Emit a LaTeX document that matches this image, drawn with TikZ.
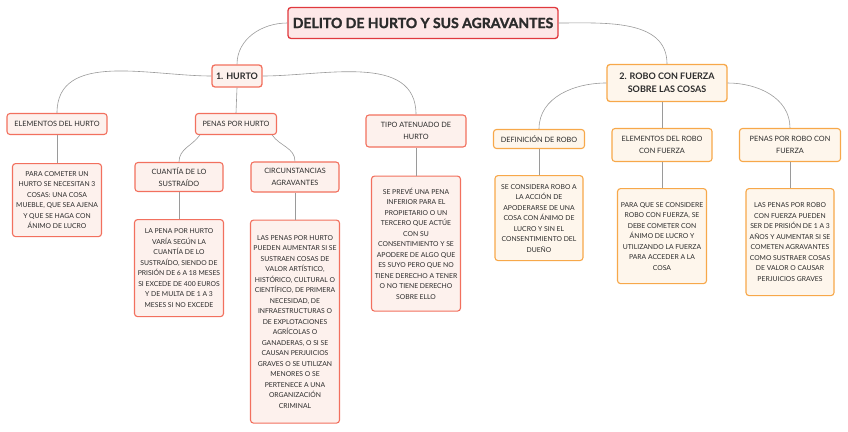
\documentclass[tikz,border=0pt]{standalone}
\usepackage{fontspec}
\setmainfont{Lato}
\newfontfamily\rootfont{Lato}[BoldFeatures={FakeBold=1.6}]
\usepackage{tikz}
\usetikzlibrary{positioning, calc}

\definecolor{rootline}{HTML}{E0393E}
\definecolor{rootfill}{HTML}{FDE7E7}
\definecolor{redline}{HTML}{F2705E}
\definecolor{redfill}{HTML}{FDF1ED}
\definecolor{orangeline}{HTML}{F7A84A}
\definecolor{orangefill}{HTML}{FEF6EC}
\definecolor{linkgray}{HTML}{9A9A9A}
\definecolor{textdark}{HTML}{2B2B2B}

\begin{document}
\begin{tikzpicture}[
    x=1pt, y=-1pt,
    every node/.style={text=textdark},
    box/.style={rectangle, rounded corners=3pt, align=center, inner sep=2pt, line width=1.1pt},
    rootbox/.style={box, draw=rootline, fill=rootfill, line width=1.3pt,
                    font=\rootfont\bfseries\fontsize{14}{16}\selectfont, minimum width=270pt, minimum height=31pt},
    mainred/.style={box, draw=redline, fill=redfill, line width=1.3pt,
                    font=\bfseries\fontsize{9}{13}\selectfont},
    mainorange/.style={box, draw=orangeline, fill=orangefill, line width=1.3pt,
                    font=\bfseries\fontsize{9}{13}\selectfont},
    catred/.style={box, draw=redline, fill=redfill, font=\fontsize{7.3}{12}\selectfont},
    catorange/.style={box, draw=orangeline, fill=orangefill, font=\fontsize{7.3}{12}\selectfont},
    leafred/.style={box, draw=redline, fill=redfill, font=\fontsize{6.8}{10.5}\selectfont,
                    minimum width=89pt},
    leaforange/.style={box, draw=orangeline, fill=orangefill, font=\fontsize{6.8}{10.5}\selectfont,
                    minimum width=89pt},
    link/.style={draw=linkgray, line width=0.6pt},
]

\useasboundingbox (0,0) rectangle (848,431);

\node[rootbox] (root) at (423,23) {DELITO DE HURTO Y SUS AGRAVANTES};

\node[mainred, minimum width=50pt, minimum height=22pt] (hurto) at (237,76) {1. HURTO};
\node[mainorange, minimum width=120pt, minimum height=37pt] (robo) at (667,83) {2. ROBO CON FUERZA\\SOBRE LAS COSAS};

\node[catred, minimum width=100pt, minimum height=21pt] (elemh) at (57,124) {ELEMENTOS DEL HURTO};
\node[catred, minimum width=81pt, minimum height=21pt] (penash) at (236,124) {PENAS POR HURTO};
\node[catred, minimum width=100pt, minimum height=32pt] (tipo) at (416,131) {TIPO ATENUADO DE\\HURTO};
\node[catred, minimum width=88pt, minimum height=29pt] (cuantia) at (179,177) {CUANTÍA DE LO\\SUSTRAÍDO};
\node[catred, minimum width=88pt, minimum height=30pt] (circ) at (295,177) {CIRCUNSTANCIAS\\AGRAVANTES};

\node[catorange, minimum width=91pt, minimum height=19pt] (defr) at (539,139) {DEFINICIÓN DE ROBO};
\node[catorange, minimum width=100pt, minimum height=33pt] (elemr) at (662,145) {ELEMENTOS DEL ROBO\\CON FUERZA};
\node[catorange, minimum width=101pt, minimum height=33pt] (penasr) at (790,145) {PENAS POR ROBO CON\\FUERZA};

\node[leafred, minimum height=73pt, below=28pt of elemh] (paracom) {PARA COMETER UN\\HURTO SE NECESITAN 3\\COSAS: UNA COSA\\MUEBLE, QUE SEA AJENA\\Y QUE SE HAGA CON\\ÁNIMO DE LUCRO};
\node[leafred, minimum height=97pt, below=27pt of cuantia] (penacuant) {LA PENA POR HURTO\\VARÍA SEGÚN LA\\CUANTÍA DE LO\\SUSTRAÍDO, SIENDO DE\\PRISIÓN DE 6 A 18 MESES\\SI EXCEDE DE 400 EUROS\\Y DE MULTA DE 1 A 3\\MESES SI NO EXCEDE};
\node[leafred, minimum height=203pt, below=27pt of circ] (penascirc) {LAS PENAS POR HURTO\\PUEDEN AUMENTAR SI SE\\SUSTRAEN COSAS DE\\VALOR ARTÍSTICO,\\HISTÓRICO, CULTURAL O\\CIENTÍFICO, DE PRIMERA\\NECESIDAD, DE\\INFRAESTRUCTURAS O\\DE EXPLOTACIONES\\AGRÍCOLAS O\\GANADERAS, O SI SE\\CAUSAN PERJUICIOS\\GRAVES O SE UTILIZAN\\MENORES O SE\\PERTENECE A UNA\\ORGANIZACIÓN\\CRIMINAL};
\node[leafred, minimum height=135pt, below=28pt of tipo] (seprev) {SE PREVÉ UNA PENA\\INFERIOR PARA EL\\PROPIETARIO O UN\\TERCERO QUE ACTÚE\\CON SU\\CONSENTIMIENTO Y SE\\APODERE DE ALGO QUE\\ES SUYO PERO QUE NO\\TIENE DERECHO A TENER\\O NO TIENE DERECHO\\SOBRE ELLO};

\node[leaforange, minimum width=88pt, minimum height=85pt, below=26pt of defr] (secons) {SE CONSIDERA ROBO A\\LA ACCIÓN DE\\APODERARSE DE UNA\\COSA CON ÁNIMO DE\\LUCRO Y SIN EL\\CONSENTIMIENTO DEL\\DUEÑO};
\node[leaforange, minimum height=95pt, below=26pt of elemr] (paraque) {PARA QUE SE CONSIDERE\\ROBO CON FUERZA, SE\\DEBE COMETER CON\\ÁNIMO DE LUCRO Y\\UTILIZANDO LA FUERZA\\PARA ACCEDER A LA\\COSA};
\node[leaforange, minimum width=88pt, minimum height=107pt, below=26pt of penasr] (penasrob) {LAS PENAS POR ROBO\\CON FUERZA PUEDEN\\SER DE PRISIÓN DE 1 A 3\\AÑOS Y AUMENTAR SI SE\\COMETEN AGRAVANTES\\COMO SUSTRAER COSAS\\DE VALOR O CAUSAR\\PERJUICIOS GRAVES};

\draw[link] (root.west) to[out=180, in=90] (hurto.north);
\draw[link] (root.east) to[out=0, in=90] (robo.north);

\draw[link] (hurto.west) to[out=180, in=90] (elemh.north);
\draw[link] (hurto.south) -- (penash.north);
\draw[link] (hurto.east) to[out=0, in=90] (tipo.north);
\draw[link] (penash.197) to[out=235, in=90] (cuantia.north);
\draw[link] (penash.-17) to[out=-55, in=90] (circ.north);

\draw[link] (robo.west) to[out=180, in=90] (defr.north);
\draw[link] (elemr.north) -- (elemr.north |- robo.south);
\draw[link] (robo.east) to[out=0, in=90] (penasr.north);

\draw[link] (elemh) -- (paracom);
\draw[link] (cuantia) -- (penacuant);
\draw[link] (circ) -- (penascirc);
\draw[link] (tipo) -- (seprev);
\draw[link] (defr) -- (secons);
\draw[link] (elemr) -- (paraque);
\draw[link] (penasr) -- (penasrob);

\end{tikzpicture}
\end{document}
